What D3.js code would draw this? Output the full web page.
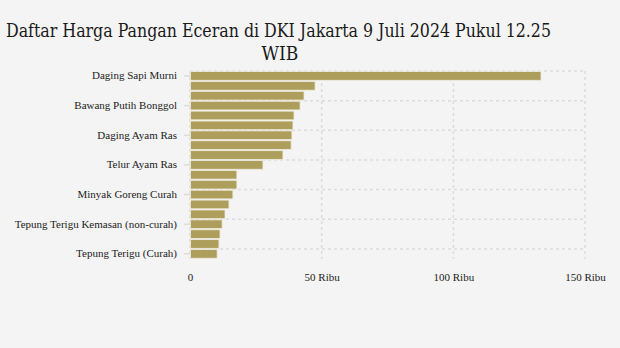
<!DOCTYPE html>
<html>
<head>
<meta charset="utf-8">
<script src="https://cdn.jsdelivr.net/npm/d3@7"></script>
<style>
  html, body { margin: 0; padding: 0; background: #f4f4f4; }
  svg { display: block; }
</style>
</head>
<body>
<svg id="chart" width="620" height="348"></svg>
<script>
const categories = [
  "Daging Sapi Murni",
  "Cabai Rawit Merah",
  "Bawang Merah",
  "Bawang Putih Bonggol",
  "Cabai Merah Keriting",
  "Cabai Merah Besar",
  "Daging Ayam Ras",
  "Ikan Kembung",
  "Ikan Tongkol",
  "Telur Ayam Ras",
  "Gula Konsumsi",
  "Minyak Goreng Kemasan Sederhana",
  "Minyak Goreng Curah",
  "Beras Premium",
  "Beras Medium",
  "Tepung Terigu Kemasan (non-curah)",
  "Kedelai Biji Kering (Impor)",
  "Beras SPHP",
  "Tepung Terigu (Curah)"
];
const prices = [
  133300, 47500, 43300, 41800, 39500, 39100, 38700, 38400, 35300, 27700,
  17800, 17800, 16300, 14800, 13300, 12200, 11400, 11000, 10300
];
const xTicks = [0, 50000, 100000, 150000];
const xTickLabels = ["0", "50 Ribu", "100 Ribu", "150 Ribu"];
const titleLines = ["Daftar Harga Pangan Eceran di DKI Jakarta 9 Juli 2024 Pukul 12.25", "WIB"];

const svg = d3.select("#chart");
const W = 620, H = 348;
const m = { left: 190, right: 35, top: 71, bottom: 90 };

svg.append("rect").attr("width", W).attr("height", H).attr("fill", "#f4f4f4");

// title
const title = svg.append("text")
  .attr("font-family", "'DejaVu Serif Condensed', 'DejaVu Serif', serif")
  .attr("font-stretch", "condensed")
  .attr("font-size", 19)
  .attr("fill", "#1a1a1a");
title.append("tspan").attr("x", 6).attr("y", 37)
  .attr("textLength", 545).attr("lengthAdjust", "spacingAndGlyphs")
  .text(titleLines[0]);
title.append("tspan").attr("x", 280).attr("y", 60)
  .attr("text-anchor", "middle")
  .text(titleLines[1]);

const x = d3.scaleLinear().domain([0, 150000]).range([m.left, W - m.right]);
const y = d3.scaleBand().domain(categories).range([m.top, H - m.bottom + 0.8]).paddingInner(0.12).paddingOuter(0.06);

const step = y.step();
const yTop = m.top, yBottom = m.top + step * categories.length;

const grid = svg.append("g");
grid.selectAll("line.v").data(xTicks).join("line")
  .attr("x1", d => x(d)).attr("x2", d => x(d))
  .attr("y1", yTop).attr("y2", yBottom)
  .attr("stroke", "#dcdcdc").attr("stroke-width", 1.5).attr("stroke-dasharray", "3,3");
const labeled = categories.filter((d, i) => i % 3 === 0);
grid.selectAll("line.h").data(labeled).join("line")
  .attr("x1", x(0)).attr("x2", x(150000))
  .attr("y1", d => y(d) - (step - y.bandwidth()) / 2)
  .attr("y2", d => y(d) - (step - y.bandwidth()) / 2)
  .attr("stroke", "#dcdcdc").attr("stroke-width", 1.5).attr("stroke-dasharray", "3,3");

// bars
svg.append("g").selectAll("rect").data(categories).join("rect")
  .attr("x", x(0) + 0.5)
  .attr("y", d => y(d))
  .attr("width", (d, i) => x(prices[i]) - x(0) - 0.5)
  .attr("height", y.bandwidth())
  .attr("fill", "#ad9f5b")
  .attr("stroke", "#efece0")
  .attr("stroke-width", 0.8);

// y axis
const yAxis = d3.axisLeft(y)
  .tickValues(labeled)
  .tickSize(6)
  .tickPadding(7);
const yg = svg.append("g").attr("transform", `translate(${x(0)},0)`).call(yAxis);
yg.select(".domain").remove();
yg.selectAll(".tick line").attr("stroke", "#dcdcdc").attr("stroke-width", 1.5);
yg.selectAll(".tick text")
  .attr("font-family", "'Liberation Serif', 'Times New Roman', serif")
  .attr("font-size", 11).attr("fill", "#222");

// x axis
const xAxis = d3.axisBottom(x)
  .tickValues(xTicks)
  .tickFormat((d, i) => xTickLabels[i])
  .tickSize(0)
  .tickPadding(14);
const xg = svg.append("g").attr("transform", `translate(0,${yBottom})`).call(xAxis);
xg.select(".domain").remove();
xg.selectAll(".tick text")
  .attr("font-family", "'Liberation Serif', 'Times New Roman', serif")
  .attr("font-size", 11).attr("fill", "#222");
</script>
</body>
</html>
